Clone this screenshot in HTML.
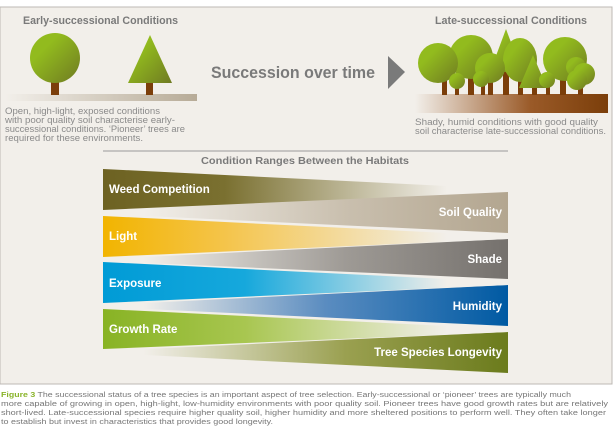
<!DOCTYPE html>
<html><head><meta charset="utf-8"><style>
body{margin:0;background:#fff;width:616px;height:428px;overflow:hidden;font-family:"Liberation Sans",sans-serif}
</style></head><body>
<svg width="616" height="428" xmlns="http://www.w3.org/2000/svg" style="position:absolute;left:0;top:0">
<defs>
<linearGradient id="tg" x1="0" y1="0" x2="1" y2="1"><stop offset="0.3" stop-color="#92bb1e"/><stop offset="1" stop-color="#6f7a22"/></linearGradient>
<linearGradient id="g1" x1="0" x2="1"><stop offset="0" stop-color="#f2efea"/><stop offset="1" stop-color="#b7ab97"/></linearGradient>
<linearGradient id="g2" x1="0" x2="1"><stop offset="0" stop-color="#f2efea"/><stop offset="0.6" stop-color="#9a5a28"/><stop offset="1" stop-color="#7b3e0a"/></linearGradient>
<linearGradient id="wL" x1="0" x2="1"><stop offset="0" stop-color="#6d6222"/><stop offset="0.3" stop-color="#7a7030"/><stop offset="0.85" stop-color="#f2efea"/></linearGradient>
<linearGradient id="sR" x1="0" x2="1"><stop offset="0.1" stop-color="#f2efea"/><stop offset="0.6" stop-color="#c9bfae"/><stop offset="1" stop-color="#b3a690"/></linearGradient>
<linearGradient id="lL" x1="0" x2="1"><stop offset="0" stop-color="#f2b400"/><stop offset="0.3" stop-color="#f4c44a"/><stop offset="0.85" stop-color="#f2efea"/></linearGradient>
<linearGradient id="shR" x1="0" x2="1"><stop offset="0.1" stop-color="#f2efea"/><stop offset="0.6" stop-color="#9e9a95"/><stop offset="1" stop-color="#75716d"/></linearGradient>
<linearGradient id="eL" x1="0" x2="1"><stop offset="0" stop-color="#009bd6"/><stop offset="0.35" stop-color="#16a8dc"/><stop offset="0.85" stop-color="#f2efea"/></linearGradient>
<linearGradient id="hR" x1="0" x2="1"><stop offset="0.1" stop-color="#f2efea"/><stop offset="0.55" stop-color="#5a8cc0"/><stop offset="1" stop-color="#005aa3"/></linearGradient>
<linearGradient id="grL" x1="0" x2="1"><stop offset="0" stop-color="#88b324"/><stop offset="0.35" stop-color="#a8c650"/><stop offset="0.85" stop-color="#f2efea"/></linearGradient>
<linearGradient id="loR" x1="0" x2="1"><stop offset="0.1" stop-color="#f2efea"/><stop offset="0.6" stop-color="#9aa050"/><stop offset="1" stop-color="#6b7b1c"/></linearGradient>
</defs>
<rect x="0" y="7" width="612" height="377" fill="#f2efea" stroke="#bdb9b4" stroke-width="1"/>
<g font-weight="bold" fill="#7a7a7a" font-size="11">
<text x="23" y="24" textLength="155" lengthAdjust="spacingAndGlyphs">Early-successional Conditions</text>
<text x="435" y="24" textLength="152" lengthAdjust="spacingAndGlyphs">Late-successional Conditions</text>
<text x="211" y="78" font-size="17" textLength="164" lengthAdjust="spacingAndGlyphs">Succession over time</text>
<text x="201" y="164" font-size="10.5" textLength="208" lengthAdjust="spacingAndGlyphs">Condition Ranges Between the Habitats</text>
</g>
<polygon points="388,56 405,72 388,89" fill="#7a7a7a"/>
<rect x="5" y="94" width="192" height="7" fill="url(#g1)"/>
<rect x="51" y="82" width="8" height="13" fill="#7b3e0a"/>
<circle cx="55" cy="58" r="25" fill="url(#tg)"/>
<rect x="146" y="82" width="7" height="13" fill="#7b3e0a"/>
<polygon points="150,35 128,83 172,83" fill="url(#tg)"/>
<g font-size="8.8" fill="#8a8a8a" lengthAdjust="spacingAndGlyphs">
<text x="5" y="114" textLength="155" lengthAdjust="spacingAndGlyphs">Open, high-light, exposed conditions</text>
<text x="5" y="123" textLength="170" lengthAdjust="spacingAndGlyphs">with poor quality soil characterise early-</text>
<text x="5" y="132" textLength="180" lengthAdjust="spacingAndGlyphs">successional conditions. ‘Pioneer’ trees are</text>
<text x="5" y="141" textLength="138" lengthAdjust="spacingAndGlyphs">required for these environments.</text>
<text x="415" y="125" textLength="183" lengthAdjust="spacingAndGlyphs">Shady, humid conditions with good quality</text>
<text x="415" y="134" textLength="191" lengthAdjust="spacingAndGlyphs">soil characterise late-successional conditions.</text>
</g>
<rect x="415" y="94" width="193" height="19" fill="url(#g2)"/>
<g fill="#7b3e0a">
<rect x="442" y="80" width="5" height="15"/><rect x="468" y="78" width="6" height="17"/><rect x="488" y="82" width="5" height="13"/>
<rect x="503" y="70" width="6" height="25"/><rect x="518" y="78" width="5" height="17"/><rect x="532" y="82" width="5" height="13"/>
<rect x="560" y="80" width="6" height="15"/><rect x="578" y="80" width="5" height="15"/><rect x="455" y="84" width="4" height="11"/><rect x="481" y="84" width="4" height="11"/><rect x="546" y="84" width="4" height="11"/>
</g>
<g fill="url(#tg)">
<circle cx="471" cy="57" r="22"/>
<circle cx="438" cy="63" r="20"/>
<polygon points="506,29 490,72 522,72"/>
<ellipse cx="520" cy="60" rx="17" ry="22"/>
<circle cx="490" cy="68" r="15"/>
<polygon points="533,55 519,88 547,88"/>
<circle cx="565" cy="59" r="22"/>
<circle cx="576" cy="67" r="10"/><circle cx="584" cy="74" r="11"/><circle cx="577" cy="80" r="10"/>
<circle cx="457" cy="81" r="8"/><circle cx="481" cy="79" r="8"/><circle cx="547" cy="80" r="8"/>
</g>
<line x1="103" y1="151" x2="508" y2="151" stroke="#9a9a9a" stroke-width="1"/>
<polygon points="103,192 508,192 508,233 103,214 103,212" fill="url(#sR)"/>
<polygon points="103,169 103,210 508,192 508,189" fill="url(#wL)"/>
<polygon points="103,259 508,239 508,279 103,261" fill="url(#shR)"/>
<polygon points="103,216 103,257 508,239 508,236" fill="url(#lL)"/>
<polygon points="103,305 508,285 508,326 103,307" fill="url(#hR)"/>
<polygon points="103,262 103,303 508,285 508,282" fill="url(#eL)"/>
<polygon points="103,351 508,332 508,373 103,353" fill="url(#loR)"/>
<polygon points="103,309 103,349 508,332 508,329" fill="url(#grL)"/>
<g font-weight="bold" fill="#fff" font-size="11.5">
<text x="109" y="193">Weed Competition</text>
<text x="109" y="240">Light</text>
<text x="109" y="287">Exposure</text>
<text x="109" y="333">Growth Rate</text>
<text x="502" y="216" text-anchor="end">Soil Quality</text>
<text x="502" y="263" text-anchor="end">Shade</text>
<text x="502" y="310" text-anchor="end">Humidity</text>
<text x="502" y="356" text-anchor="end">Tree Species Longevity</text>
</g>
<g font-size="7.6" fill="#777">
<text x="1" y="397" textLength="570" lengthAdjust="spacingAndGlyphs"><tspan fill="#8ab42a" font-weight="bold">Figure 3</tspan> The successional status of a tree species is an important aspect of tree selection. Early-successional or ‘pioneer’ trees are typically much</text>
<text x="1" y="406" textLength="607" lengthAdjust="spacingAndGlyphs">more capable of growing in open, high-light, low-humidity environments with poor quality soil. Pioneer trees have good growth rates but are relatively</text>
<text x="1" y="415" textLength="605" lengthAdjust="spacingAndGlyphs">short-lived. Late-successional species require higher quality soil, higher humidity and more sheltered positions to perform well. They often take longer</text>
<text x="1" y="424" textLength="272" lengthAdjust="spacingAndGlyphs">to establish but invest in characteristics that provides good longevity.</text>
</g>
</svg>
</body></html>
